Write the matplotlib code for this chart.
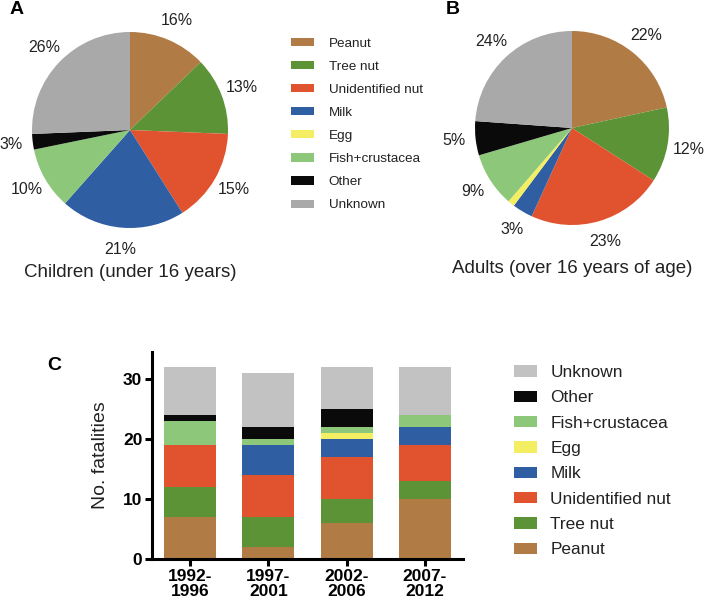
import numpy as np
import matplotlib
matplotlib.use('Agg')
import matplotlib.pyplot as plt
from matplotlib.patches import Patch

plt.rcParams['font.family'] = ['Liberation Sans', 'DejaVu Sans']

# categories and colours
categories = ['Peanut', 'Tree nut', 'Unidentified nut', 'Milk', 'Egg',
              'Fish+crustacea', 'Other', 'Unknown']
pie_colors = ['#B07B45', '#5C9336', '#E1532F', '#2F5EA3', '#F3EE62',
              '#8DC87A', '#0A0A0A', '#A9A9A9']
bar_colors = pie_colors[:-1] + ['#C2C2C2']

# pie data (slice sizes) and printed labels
children_vals = [5, 5, 6, 8, 0, 4, 1, 10]
children_labels = ['16%', '13%', '15%', '21%', '', '10%', '3%', '26%']
adults_vals = [19, 11, 20, 3, 1, 8, 5, 21]
adults_labels = ['22%', '12%', '23%', '3%', '', '9%', '5%', '24%']

# bar data (fatalities per period)
periods = ['1992-\n1996', '1997-\n2001', '2002-\n2006', '2007-\n2012']
peanut = [7, 2, 6, 10]
tree_nut = [5, 5, 4, 3]
unidentified_nut = [7, 7, 7, 6]
milk = [0, 5, 3, 3]
egg = [0, 0, 1, 0]
fish = [4, 1, 1, 2]
other = [1, 2, 3, 0]
unknown = [8, 9, 7, 8]
bar_series = [peanut, tree_nut, unidentified_nut, milk, egg, fish, other, unknown]

W, H = 712, 600
fig = plt.figure(figsize=(W / 100, H / 100), dpi=100)


def px_axes(x0, y0, w, h):
	# axes from pixel box (top-left origin)
	return fig.add_axes([x0 / W, 1 - (y0 + h) / H, w / W, h / H])


def draw_pie(ax, vals, labels, title):
	wedges, _ = ax.pie(vals, colors=pie_colors, startangle=90, counterclock=False,
					   wedgeprops=dict(linewidth=0))
	for w, lab in zip(wedges, labels):
		if not lab:
			continue
		ang = np.deg2rad((w.theta1 + w.theta2) / 2)
		ax.text(1.22 * np.cos(ang), 1.22 * np.sin(ang), lab, ha='center', va='center',
				fontsize=11.5, color='#222222', clip_on=False)
	ax.set_xlim(-1, 1)
	ax.set_ylim(-1, 1)
	ax.set_aspect('equal')
	ax.text(0, -1.45, title, ha='center', va='center', fontsize=13.5, color='#222222',
			clip_on=False)


axA = px_axes(32, 32, 196, 196)
draw_pie(axA, children_vals, children_labels, 'Children (under 16 years)')
axB = px_axes(475, 31, 194, 194)
draw_pie(axB, adults_vals, adults_labels, 'Adults (over 16 years of age)')

fig.text(10 / W, 1 - 10 / H, 'A', fontsize=14, fontweight='bold', va='center')
fig.text(446 / W, 1 - 10 / H, 'B', fontsize=14, fontweight='bold', va='center')
fig.text(47 / W, 1 - 366 / H, 'C', fontsize=14, fontweight='bold', va='center')

# legend for pies
handlesA = [Patch(facecolor=c, edgecolor='none') for c in pie_colors]
fig.legend(handlesA, categories, loc='upper left', bbox_to_anchor=(291 / W, 1 - 38 / H),
		   frameon=False, fontsize=9.7, handlelength=1.7, handleheight=0.55,
		   handletextpad=1.1, labelspacing=0.82, borderpad=0, borderaxespad=0,
		   labelcolor='#222222')

# stacked bars
axC = px_axes(152, 352, 311, 207)
x = np.arange(len(periods))
bottom = np.zeros(len(periods))
for vals, c, name in zip(bar_series, bar_colors, categories):
	axC.bar(x, vals, 0.66, bottom=bottom, color=c, label=name, linewidth=0)
	bottom += np.array(vals)

axC.set_xlim(-0.485, 3.485)
axC.set_ylim(0, 34.5)
axC.set_yticks([0, 10, 20, 30])
axC.set_xticks(x)
axC.set_xticklabels(periods, linespacing=1.0)
for s in ('top', 'right'):
	axC.spines[s].set_visible(False)
for s in ('left', 'bottom'):
	axC.spines[s].set_linewidth(2.2)
axC.tick_params(width=2.2, length=5, labelsize=12.5, pad=2)
for t in axC.get_xticklabels() + axC.get_yticklabels():
	t.set_fontweight('bold')
axC.set_ylabel('No. fatalities', fontsize=14, labelpad=10, color='#222222')

h, l = axC.get_legend_handles_labels()
fig.legend(h[::-1], l[::-1], loc='upper left', bbox_to_anchor=(514 / W, 1 - 365 / H),
		   frameon=False, fontsize=12.4, handlelength=1.35, handleheight=0.65,
		   handletextpad=0.75, labelspacing=0.6, borderpad=0, borderaxespad=0,
		   labelcolor='#222222')

fig.savefig('out.png', dpi=100)
